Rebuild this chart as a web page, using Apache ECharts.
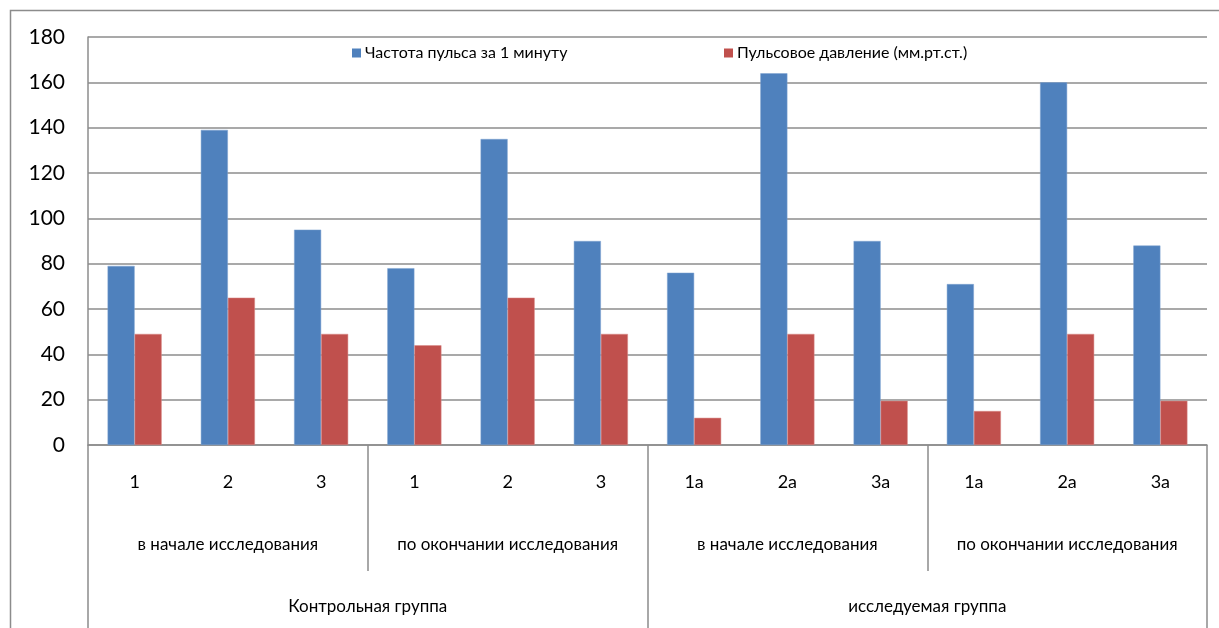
<!DOCTYPE html>
<html>
<head>
<meta charset="utf-8">
<script src="https://cdn.jsdelivr.net/npm/echarts@6/dist/echarts.min.js"></script>
<style>
  html, body { margin: 0; padding: 0; background: #fff; }
  #chart { width: 1219px; height: 628px; }
</style>
</head>
<body>
<div id="chart"></div>
<script>
const subLabels = ['1', '2', '3', '1', '2', '3', '1а', '2а', '3а', '1а', '2а', '3а'];
const stageLabels = ['в начале исследования', 'по окончании исследования', 'в начале исследования', 'по окончании исследования'];
const groupLabels = ['Контрольная группа', 'исследуемая группа'];
const pulseRate = [79, 139, 95, 78, 135, 90, 76, 164, 90, 71, 160, 88];
const pulsePressure = [49, 65, 49, 44, 65, 49, 12, 49, 19.5, 15, 49, 19.5];
const yTicks = { min: 0, max: 180, interval: 20 };

const FONT = 'Lato, "Open Sans", sans-serif';
const GRAY = '#8c8c8c';

const myChart = echarts.init(document.getElementById('chart'));

const legendBase = {
  top: 40,
  icon: 'rect',
  itemWidth: 9,
  itemHeight: 9,
  itemGap: 4,
  itemStyle: { borderWidth: 0 },
  textStyle: { fontSize: 16, fontFamily: FONT, color: '#000', padding: [0, 0, 0, -1] },
};

const option = {
  animation: false,
  textStyle: { fontFamily: FONT, color: '#000' },
  graphic: [
    {
      type: 'rect',
      shape: { x: 10.5, y: 10.5, width: 1230, height: 640 },
      style: { fill: 'none', stroke: GRAY, lineWidth: 1.5 },
      z: -1,
    },
  ],
  legend: [
    Object.assign({ left: 347, data: ['Частота пульса за 1 минуту'] }, legendBase),
    Object.assign({ left: 719, data: ['Пульсовое давление (мм.рт.ст.)'] }, legendBase),
  ],
  grid: {
    left: 88,
    right: 12,
    top: 37,
    bottom: 183,
    containLabel: false,
  },
  xAxis: [
    {
      type: 'category',
      position: 'bottom',
      data: subLabels,
      axisLine: { show: true, lineStyle: { color: GRAY, width: 1.5 } },
      axisTick: { show: false },
      axisLabel: { interval: 0, margin: 28, fontSize: 18, fontFamily: FONT, color: '#000' },
    },
    {
      type: 'category',
      position: 'bottom',
      data: stageLabels,
      axisLine: { show: false },
      axisTick: { show: true, interval: 0, length: 126, lineStyle: { color: GRAY, width: 1.5 } },
      axisLabel: { interval: 0, margin: 91, fontSize: 17, fontFamily: FONT, color: '#000' },
    },
    {
      type: 'category',
      position: 'bottom',
      data: groupLabels,
      axisLine: { show: false },
      axisTick: { show: true, interval: 0, length: 190, lineStyle: { color: GRAY, width: 1.5 } },
      axisLabel: { interval: 0, margin: 153, fontSize: 17, fontFamily: FONT, color: '#000' },
    },
  ],
  yAxis: {
    type: 'value',
    min: yTicks.min,
    max: yTicks.max,
    interval: yTicks.interval,
    axisLine: { show: true, lineStyle: { color: GRAY, width: 1.5 } },
    axisTick: { show: false },
    axisLabel: { margin: 23, fontSize: 21, fontFamily: FONT, color: '#000' },
    splitLine: { lineStyle: { color: GRAY, width: 1.5 } },
  },
  series: [
    {
      name: 'Частота пульса за 1 минуту',
      type: 'bar',
      xAxisIndex: 0,
      barWidth: '29%',
      barGap: '0%',
      itemStyle: { color: '#4F81BD', borderColor: '#7FA3D0', borderWidth: 0.5 },
      data: pulseRate,
    },
    {
      name: 'Пульсовое давление (мм.рт.ст.)',
      type: 'bar',
      xAxisIndex: 0,
      barWidth: '29%',
      barGap: '0%',
      itemStyle: { color: '#C0504D', borderColor: '#D88A88', borderWidth: 0.5 },
      data: pulsePressure,
    },
  ],
};

option && myChart.setOption(option);
</script>
</body>
</html>
